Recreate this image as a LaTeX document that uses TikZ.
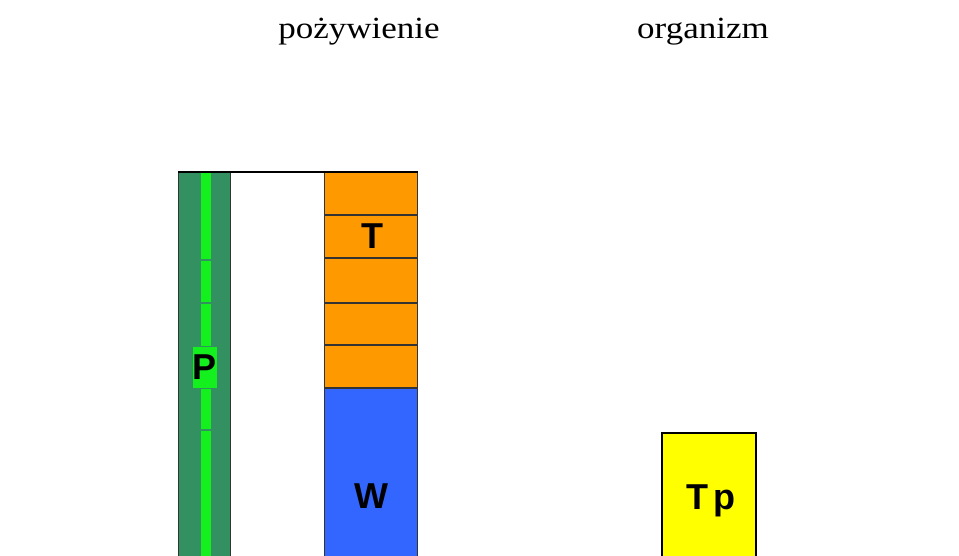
\documentclass[tikz,border=0pt]{standalone}
\usepackage{fontspec}
\setmainfont{Liberation Serif}
\newfontfamily\lsans{Liberation Sans}
\definecolor{darkgr}{RGB}{51,145,97}
\definecolor{brightgr}{RGB}{20,240,30}
\definecolor{orng}{RGB}{255,153,0}
\definecolor{blu}{RGB}{51,102,255}
\definecolor{yel}{RGB}{255,255,0}
\tikzset{
  title/.style={font=\fontsize{35}{40}\selectfont, anchor=base, inner sep=0pt},
  lett/.style={font=\lsans\bfseries\fontsize{36}{40}\selectfont, anchor=base, inner sep=0pt},
  seg/.style={draw=black!80, line width=1.2pt},
}
\begin{document}
\begin{tikzpicture}[x=1pt,y=-1pt]
\useasboundingbox (0,0) rectangle (959,556);
\fill[white] (0,0) rectangle (959,556);
% green column
\fill[darkgr] (178,171) rectangle (231,560);
\draw[black!80, line width=1pt] (178.5,171) -- (178.5,560) (230.5,171) -- (230.5,560);
\fill[brightgr] (201,172) rectangle (211,259);
\fill[brightgr] (201,261) rectangle (211,302);
\fill[brightgr] (201,304) rectangle (211,346);
\fill[brightgr] (193,347) rectangle (217,388);
\fill[brightgr] (201,389) rectangle (211,429);
\fill[brightgr] (201,431) rectangle (211,560);
\node[lett] (P) at (205,379) {P};
% orange / blue column
\fill[orng] (324,171) rectangle (418,388);
\fill[blu] (324,388) rectangle (418,560);
\draw[seg] (324.5,171) -- (324.5,560) (417.5,171) -- (417.5,560);
\foreach \yy in {215,258,303,345,388} \draw[seg] (324,\yy) -- (418,\yy);
\draw[black, line width=2.5pt] (178,172) -- (418,172);
\node[lett] (T) at (372,249) {T};
\node[lett] (W) at (371,508) {W};
% yellow box
\draw[fill=yel, line width=2.5pt] (662,433) rectangle (756,580);
\node[lett] (Tp) at (711,509) {T\,p};
% titles
\node[title] (food) at (359,39) {\scalebox{1}[0.88]{pożywienie}};
\node[title] (org) at (703,39) {\scalebox{1}[0.88]{organizm}};
\end{tikzpicture}
\end{document}
